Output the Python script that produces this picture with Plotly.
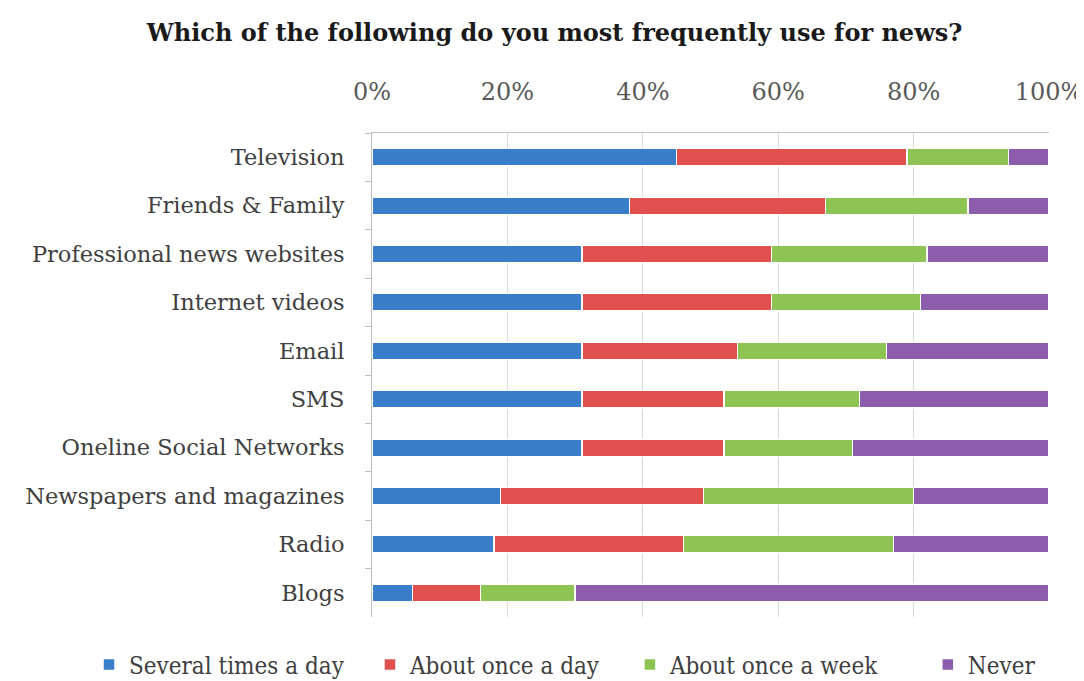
import plotly.graph_objects as go

categories = ["Television", "Friends & Family", "Professional news websites", "Internet videos",
              "Email", "SMS", "Oneline Social Networks", "Newspapers and magazines", "Radio", "Blogs"]
several_times_a_day = [45, 38, 31, 31, 31, 31, 31, 19, 18, 6]
about_once_a_day = [34, 29, 28, 28, 23, 21, 21, 30, 28, 10]
about_once_a_week = [15, 21, 23, 22, 22, 20, 19, 31, 31, 14]
never = [6, 12, 18, 19, 24, 28, 29, 20, 23, 70]
tick_values = [0, 20, 40, 60, 80, 100]
tick_labels = ["0%", "20%", "40%", "60%", "80%", "100%"]

series = [
    ("Several times a day", several_times_a_day, "#3A7DC9"),
    ("About once a day", about_once_a_day, "#E0504E"),
    ("About once a week", about_once_a_week, "#8DC454"),
    ("Never", never, "#8C5DAA"),
]
legend_ids = ["legend2", "legend3", "legend4", "legend5"]
legend_x = [-0.418, -0.003, 0.381, 0.821]

fig = go.Figure()
for (name, vals, color), lid in zip(series, legend_ids):
    fig.add_trace(go.Bar(
        y=categories, x=vals, name=name, orientation="h", legend=lid, showlegend=True,
        marker=dict(color=color, line=dict(color="white", width=1.5)),
    ))

serif = "DejaVu Serif"
legend_font = dict(family="DejaVu Serif Condensed, Liberation Serif", size=24, color="#404040")
legends = {}
for lid, lx in zip(legend_ids, legend_x):
    legends[lid] = dict(orientation="h", x=lx, xanchor="left", y=-0.099, yanchor="middle",
                        font=legend_font, itemwidth=30, bgcolor="rgba(0,0,0,0)")

fig.update_layout(
    showlegend=True,
    barmode="stack",
    bargap=0.64,
    width=1076, height=673,
    paper_bgcolor="white", plot_bgcolor="white",
    margin=dict(l=364, r=35, t=125, b=64, autoexpand=False),
    title=dict(text="<b>Which of the following do you most frequently use for news?</b>",
               x=0.508, xanchor="center", y=0.964, yanchor="middle",
               font=dict(family=serif, size=24, color="#1a1a1a")),
    xaxis=dict(side="top", range=[0, 100], tickvals=tick_values, ticktext=tick_labels,
               showgrid=True, gridcolor="#d9d9d9", gridwidth=1,
               showline=True, linecolor="#bfbfbf", linewidth=1,
               ticks="", ticklabelstandoff=22, automargin=False,
               tickfont=dict(family=serif, size=24, color="#595959"),
               zeroline=False),
    yaxis=dict(autorange="reversed", showline=True, linecolor="#bfbfbf", linewidth=1,
               ticks="outside", ticklen=6, tickcolor="#bfbfbf", tickson="boundaries",
               tickfont=dict(family=serif, size=22.5, color="#404040"),
               ticklabelstandoff=22, automargin=False),
    **legends,
)

fig.write_html("out.html")
